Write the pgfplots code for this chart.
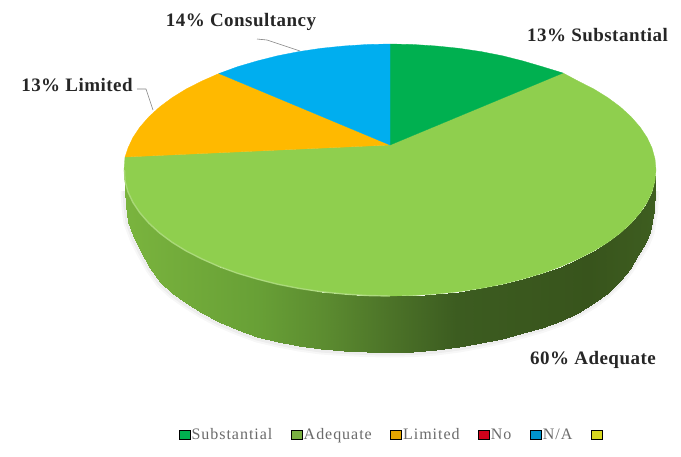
\documentclass[border=0pt]{standalone}
\usepackage{fontspec}
\setmainfont{Liberation Serif}
\usepackage{pgfplots}
\usepackage{pgfplotstable}
\pgfplotsset{compat=1.18}

\definecolor{cSub}{HTML}{00B050}
\definecolor{cAde}{HTML}{8FCF4E}
\definecolor{cLim}{HTML}{FFB900}
\definecolor{cNo}{HTML}{D0021B}
\definecolor{cNA}{HTML}{00AEEF}
\definecolor{cEmpty}{HTML}{D8D820}
\definecolor{cLeg}{HTML}{6A6A6A}

% lower edge of the rim (pixels)
\pgfplotstableread{
xb ybot
125 190
126 206
128 222
134 238
141 252
150 268
160 282
172 293
186 303
202 313
219 322
238 330
257 337
278 342
299 346
321 349
344 350.5
367 351.6
390 352
413 351.6
436 350
459 347
481 343
502 338.5
523 333
542 327.5
561 321
578 312.5
594 303
607.5 292.5
620 281
629.5 268.5
638 255
645 244
650 232
653.5 211
655 190
}\rim

\newcommand{\lab}{\fontsize{19}{21}\selectfont\bfseries\addfontfeatures{LetterSpace=2.5}}

\begin{document}
\begin{tikzpicture}
\useasboundingbox (0,0) rectangle (681pt,456pt);
\begin{axis}[
    at={(0,0)}, anchor=south west,
    scale only axis,
    width=681pt, height=456pt,
    xmin=0, xmax=681, ymin=0, ymax=456,
    y dir=reverse,
    hide axis,
    clip=false,
    colormap={rimgreen}{
        rgb255(0cm)=(122,180,62);
        rgb255(2cm)=(104,160,54);
        rgb255(3cm)=(92,140,48);
        rgb255(4cm)=(76,115,40);
        rgb255(5cm)=(60,92,32);
        rgb255(7cm)=(56,84,28);
        rgb255(8cm)=(62,94,32)
    },
    point meta min=124, point meta max=656,
    legend image code/.code={
        \fill[#1] (0pt,-4.5pt) rectangle (11pt,4.5pt);
    },
    legend style={
        at={(axis cs:392,435)}, anchor=center,
        draw=none, fill=none,
        legend columns=6,
        font=\fontsize{16}{18}\selectfont\addfontfeatures{LetterSpace=6}\color{cLeg},
        /tikz/every even column/.append style={column sep=17pt},
        nodes={inner sep=1.5pt}
    },
]
% soft shadow under the rim
\addplot[forget plot, draw=black, opacity=0.03, line width=9pt] table[x=xb, y expr=\thisrow{ybot}+1] {\rim};
\addplot[forget plot, draw=black, opacity=0.04, line width=5pt] table[x=xb, y expr=\thisrow{ybot}+1] {\rim};

% rim
\addplot[forget plot, surf, shader=interp, mesh/rows=2, point meta=explicit] coordinates {
(124,170) [124] (125,181) [125] (128,192) [128] (133,202.6) [133] (140,213) [140] (149,223.3) [149]
(159.6,233) [160] (172.1,242.3) [172] (186.2,251) [186] (202,259) [202] (219,266.5) [219] (237.3,273.2) [238]
(257,279) [257] (277.5,284.2) [278] (299,288.4) [299] (321.1,291.7) [321] (343.8,294) [344] (366.9,295.5) [367]
(390,296) [390] (413.1,295.5) [413] (436.2,294) [436] (458.9,291.7) [459] (481,288.4) [481] (502.5,284.2) [502]
(523,279) [523] (542.7,273.2) [542] (561,266.5) [561] (578,259) [578] (593.8,251) [594] (607.9,242.3) [608]
(620.4,233) [620] (631,223.3) [630] (640,213) [638] (647,202.6) [645] (652,192) [650] (655,181) [654] (656,170) [656]
(125,190) [124] (126,206) [125] (128,222) [128] (134,238) [133] (141,252) [140] (150,268) [149]
(160,282) [160] (172,293) [172] (186,303) [186] (202,313) [202] (219,322) [219] (238,330) [238]
(257,337) [257] (278,342) [278] (299,346) [299] (321,349) [321] (344,350.5) [344] (367,351.6) [367]
(390,352) [390] (413,351.6) [413] (436,350) [436] (459,347) [459] (481,343) [481] (502,338.5) [502]
(523,333) [523] (542,327.5) [542] (561,321) [561] (578,312.5) [578] (594,303) [594] (607.5,292.5) [608]
(620,281) [620] (629.5,268.5) [630] (638,255) [638] (645,244) [645] (650,232) [650] (653.5,211) [654] (655,190) [656]
};

% slices of the top face
\addplot[forget plot, fill=cAde, draw=cAde, line width=0.3pt] coordinates {
(390,145) (563,73) (578,81) (593.8,89) (607.9,97.7) (620.4,107) (631,116.7) (640,127) (647,137.4) (652,148) (655,159) (656,170)
(655,181) (652,192) (647,202.6) (640,213) (631,223.3) (620.4,233) (607.9,242.3) (593.8,251) (578,259) (561,266.5) (542.7,273.2)
(523,279) (502.5,284.2) (481,288.4) (458.9,291.7) (436.2,294) (413.1,295.5)
(390,296) (366.9,295.5) (343.8,294) (321.1,291.7) (299,288.4) (277.5,284.2) (257,279) (237.3,273.2) (219,266.5) (202,259)
(186.2,251) (172.1,242.3) (159.6,233) (149,223.3) (140,213) (133,202.6) (128,192) (125,181)
(124,170) (125,157)
} -- cycle;
\addplot[forget plot, fill=cSub, draw=cSub, line width=0.3pt] coordinates {
(390,145) (390,44) (413.1,44.5) (436.2,46) (458.9,48.3) (481,51.6) (502.5,55.8) (523,61) (542.7,66.8) (563,73)
} -- cycle;
\addplot[forget plot, fill=cLim, draw=cLim, line width=0.3pt] coordinates {
(390,145) (125,157) (128,148) (133,137.4) (140,127) (149,116.7) (159.6,107) (172.1,97.7) (186.2,89) (202,81) (219,73.5)
} -- cycle;
\addplot[forget plot, fill=cNA, draw=cNA, line width=0.3pt] coordinates {
(390,145) (219,73.5) (237.3,66.8) (257,61) (277.5,55.8) (299,51.6) (321.1,48.3) (343.8,46) (366.9,44.5) (390,44)
} -- cycle;

% highlight along the front left edge
\addplot[forget plot, draw=cAde!70!white, line width=1.4pt, opacity=0.8] coordinates {
(124.5,170) (125,181) (128,192) (133,202.6) (140,213) (149,223.3) (159.6,233) (172.1,242.3) (186.2,251) (202,259)
(219,266.5) (237.3,273.2) (257,279) (277.5,284.2) (299,288.4) (321.1,291.7) (343.8,294) (366.9,295.5) (390,296)
};

% leader lines
\addplot[forget plot, draw=gray, line width=0.6pt] coordinates {(137,89) (146,89) (153,110)};
\addplot[forget plot, draw=gray, line width=0.6pt] coordinates {(257,39) (267,40) (300,51)};

% legend
\addlegendimage{fill=cSub} \addlegendentry{Substantial}
\addlegendimage{fill=cAde!85!black} \addlegendentry{Adequate}
\addlegendimage{fill=cLim!90!black} \addlegendentry{Limited}
\addlegendimage{fill=cNo} \addlegendentry{No}
\addlegendimage{fill=cNA!85!black} \addlegendentry{N/A}
\addlegendimage{fill=cEmpty} \addlegendentry{}

% data labels
\node[font=\lab, text=black!85] at (axis cs:241,22) {14\% Consultancy};
\node[font=\lab, text=black!85] at (axis cs:77,85) {13\% Limited};
\node[font=\lab, text=black!85] at (axis cs:597.5,35) {13\% Substantial};
\node[font=\lab, text=black!85] at (axis cs:593,360) {60\% Adequate};
\end{axis}
\end{tikzpicture}
\end{document}
